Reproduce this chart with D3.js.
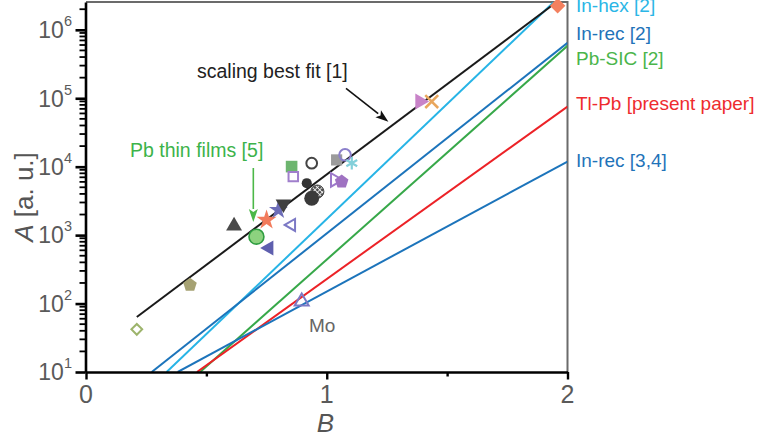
<!DOCTYPE html>
<html>
<head>
<meta charset="utf-8">
<script src="https://cdn.jsdelivr.net/npm/d3@7"></script>
<style>
  body { margin: 0; background: #fff; }
  svg { display: block; font-family: "Liberation Sans", Arial, Helvetica, sans-serif; }
</style>
</head>
<body>
<div id="chart"></div>
<script>
"use strict";

// axis setup
const xDomain = [0, 2];
const yDomain = [10, 2.55e6];
const xTicks = [0, 0.5, 1, 1.5, 2];
const xTickLabels = ["0", "", "1", "", "2"];
const yDecades = [1e1, 1e2, 1e3, 1e4, 1e5, 1e6];
const yExponents = ["1", "2", "3", "4", "5", "6"];

// fitted lines (two end points each, in B / A units)
const lineNames = ["In-hex [2]", "In-rec [2]", "Pb-SIC [2]", "Tl-Pb [present paper]", "In-rec [3,4]", "scaling best fit [1]"];
const lineStartB = [0.335, 0.273, 0.474, 0.461, 0.381, 0.211];
const lineStartA = [10, 10, 10, 10, 10, 63.5];
const lineEndB = [1.94, 2, 2, 2, 2, 1.948];
const lineEndA = [2.48e6, 6.46e5, 5.83e5, 7.57e4, 1.19e4, 2.45e6];

// literature data points
const pointKinds = [
  "diamondOpen", "pentagonOlive", "triangleDark", "circleGreen", "starOrange", "starPurple",
  "triangleDownDark", "triangleLeftOpen", "triangleLeftPurple", "squareGreen", "circleOpenDark",
  "squareGray", "circleOpenPurple", "asteriskCyan", "squareOpenPurple", "triangleRightOpen",
  "pentagonPurple", "circleDarkSmall", "circleHatched", "circleDarkBig", "triangleRightPink",
  "timesOrange", "diamondOrange", "triangleOpenMo",
];
const pointB = [0.211, 0.432, 0.615, 0.708, 0.750, 0.799, 0.820, 0.854, 0.760, 0.854, 0.9375, 1.041,
  1.076, 1.104, 0.861, 1.034, 1.062, 0.917, 0.961, 0.9375, 1.387, 1.436, 1.959, 0.896];
const pointA = [42, 187, 1365, 949, 1667, 2333, 2857, 1410, 649, 10035, 11250, 12560,
  14900, 11250, 7160, 6410, 6050, 5740, 4330, 3460, 89500, 89500, 2.24e6, 107];

// annotation arrows (tail -> tip)
const fitArrow = { b0: 1.080, a0: 1.4e5, b1: 1.256, a1: 4.54e4 };
const filmArrow = { b0: 0.695, a0: 9570, b1: 0.695, a1: 1556 };

const width = 765;
const height = 437;
const plot = { left: 86, right: 567.5, top: 2, bottom: 372 };

const lineColors = {
  "In-hex [2]": "#27b4e6",
  "In-rec [2]": "#1c74bb",
  "Pb-SIC [2]": "#37a849",
  "Tl-Pb [present paper]": "#ec2227",
  "In-rec [3,4]": "#1c74bb",
  "scaling best fit [1]": "#1a1a1a",
};
const labelColors = {
  "In-hex [2]": "#2bb6e6",
  "In-rec [2]": "#1f73b9",
  "Pb-SIC [2]": "#4bb54a",
  "Tl-Pb [present paper]": "#ee2b2e",
  "In-rec [3,4]": "#1f73b9",
};
const labelBaselines = {
  "In-hex [2]": 11.5,
  "In-rec [2]": 39.5,
  "Pb-SIC [2]": 65,
  "Tl-Pb [present paper]": 110,
  "In-rec [3,4]": 166.5,
};

const symbolPentagon = {
  draw(ctx, size) {
    const r = Math.sqrt(size / 2.378);
    for (let i = 0; i < 5; i++) {
      const ang = -Math.PI / 2 + (i * 2 * Math.PI) / 5;
      const px = r * Math.cos(ang);
      const py = r * Math.sin(ang);
      if (i === 0) ctx.moveTo(px, py);
      else ctx.lineTo(px, py);
    }
    ctx.closePath();
  },
};

const markerStyles = {
  diamondOpen: { type: d3.symbolSquare, size: 58, rotate: 45, fill: "#fff", stroke: "#9db46c", sw: 2 },
  pentagonOlive: { type: symbolPentagon, size: 120, fill: "#a6a273" },
  triangleDark: { type: d3.symbolTriangle, size: 110, fill: "#4a4a4a" },
  circleGreen: { type: d3.symbolCircle, size: 175, fill: "#8dd27f", stroke: "#2f9d41", sw: 1.6 },
  starOrange: { type: d3.symbolStar, size: 125, fill: "#f27b5c" },
  starPurple: { type: d3.symbolStar, size: 110, fill: "#6d6db8" },
  triangleDownDark: { type: d3.symbolTriangle, size: 105, rotate: 180, fill: "#404040" },
  triangleLeftOpen: { type: d3.symbolTriangle, size: 62, rotate: -90, fill: "none", stroke: "#7c79c5", sw: 2 },
  triangleLeftPurple: { type: d3.symbolTriangle, size: 100, rotate: -90, fill: "#5e5fae" },
  squareGreen: { type: d3.symbolSquare, size: 135, fill: "#6db56f" },
  circleOpenDark: { type: d3.symbolCircle, size: 90, fill: "none", stroke: "#444", sw: 2 },
  squareGray: { type: d3.symbolSquare, size: 125, fill: "#9b9b9b" },
  circleOpenPurple: { type: d3.symbolCircle, size: 105, fill: "none", stroke: "#8b7fcb", sw: 2 },
  asteriskCyan: { type: d3.symbolAsterisk, size: 110, fill: "none", stroke: "#83d0da", sw: 2.2 },
  squareOpenPurple: { type: d3.symbolSquare, size: 90, fill: "none", stroke: "#a07fcc", sw: 2 },
  triangleRightOpen: { type: d3.symbolTriangle, size: 80, rotate: 90, fill: "#fff", stroke: "#9c78ca", sw: 2 },
  pentagonPurple: { type: symbolPentagon, size: 120, fill: "#9f72c2" },
  circleDarkSmall: { type: d3.symbolCircle, size: 80, fill: "#333" },
  circleHatched: { type: d3.symbolCircle, size: 135, fill: "url(#hatch)", stroke: "#444", sw: 1 },
  circleDarkBig: { type: d3.symbolCircle, size: 175, fill: "#3a3a3a" },
  triangleRightPink: { type: d3.symbolTriangle, size: 110, rotate: 90, fill: "#c883c8" },
  timesOrange: { type: d3.symbolTimes, size: 110, fill: "none", stroke: "#e9a65c", sw: 2.5 },
  diamondOrange: { type: d3.symbolSquare, size: 120, rotate: 45, fill: "#f3805f" },
  triangleOpenMo: { type: d3.symbolTriangle, size: 85, fill: "none", stroke: "#7c79c5", sw: 2 },
};

const svg = d3.select("#chart").append("svg")
  .attr("width", width)
  .attr("height", height)
  .attr("viewBox", `0 0 ${width} ${height}`);

const defs = svg.append("defs");
const hatch = defs.append("pattern")
  .attr("id", "hatch")
  .attr("width", 3.4)
  .attr("height", 3.4)
  .attr("patternUnits", "userSpaceOnUse")
  .attr("patternTransform", "rotate(45)");
hatch.append("rect").attr("width", 3.4).attr("height", 3.4).attr("fill", "#4a4a4a");
hatch.append("path").attr("d", "M0.5,0V3.4M0,0.5H3.4").attr("stroke", "#fff").attr("stroke-width", 0.8);

defs.append("clipPath").attr("id", "plot-clip")
  .append("rect")
  .attr("x", plot.left)
  .attr("y", plot.top)
  .attr("width", plot.right - plot.left)
  .attr("height", plot.bottom - plot.top);

const x = d3.scaleLinear().domain(xDomain).range([plot.left, plot.right]);
const y = d3.scaleLog().domain(yDomain).range([plot.bottom, plot.top]);

// frame (top + right, gray)
svg.append("path")
  .attr("d", `M${plot.left},${plot.top}H${plot.right}V${plot.bottom}`)
  .attr("fill", "none")
  .attr("stroke", "#6b6b6b")
  .attr("stroke-width", 2);

// colored lines
const lineLayer = svg.append("g").attr("clip-path", "url(#plot-clip)");
const lineRows = lineNames.map((name, i) => ({
  name,
  pts: [[lineStartB[i], lineStartA[i]], [lineEndB[i], lineEndA[i]]],
}));
const lineGen = d3.line().x((p) => x(p[0])).y((p) => y(p[1]));

lineLayer.selectAll("path.fit")
  .data(lineRows.filter((row) => row.name !== "scaling best fit [1]"))
  .join("path")
  .attr("class", "fit")
  .attr("d", (row) => lineGen(row.pts))
  .attr("fill", "none")
  .attr("stroke", (row) => lineColors[row.name])
  .attr("stroke-width", 2);

// points
const symbolGen = d3.symbol();
const pointRows = pointKinds.map((kind, i) => ({ kind, b: pointB[i], a: pointA[i] }));
svg.append("g")
  .selectAll("path.pt")
  .data(pointRows)
  .join("path")
  .attr("class", "pt")
  .attr("d", (row) => symbolGen.type(markerStyles[row.kind].type).size(markerStyles[row.kind].size)())
  .attr("transform", (row) => `translate(${x(row.b)},${y(row.a)}) rotate(${markerStyles[row.kind].rotate || 0})`)
  .attr("fill", (row) => markerStyles[row.kind].fill)
  .attr("stroke", (row) => markerStyles[row.kind].stroke || "none")
  .attr("stroke-width", (row) => markerStyles[row.kind].sw || 0)
  .attr("stroke-linejoin", "miter");

// best fit line on top
lineLayer.append("path")
  .datum(lineRows.find((row) => row.name === "scaling best fit [1]"))
  .attr("d", (row) => lineGen(row.pts))
  .attr("fill", "none")
  .attr("stroke", lineColors["scaling best fit [1]"])
  .attr("stroke-width", 2);

// x axis
const xAxis = svg.append("g")
  .attr("transform", `translate(0,${plot.bottom})`)
  .call(d3.axisBottom(x).tickValues(xTicks).tickSize(7).tickSizeOuter(0).tickFormat(""));
xAxis.select(".domain").attr("stroke", "#000").attr("stroke-width", 2.6);
xAxis.selectAll(".tick line")
  .attr("stroke", "#000")
  .attr("stroke-width", 2.4)
  .attr("y2", (d) => (Number.isInteger(d) ? 7.5 : 4.5));

svg.append("g")
  .selectAll("text")
  .data(xTicks.filter((_, i) => xTickLabels[i] !== ""))
  .join("text")
  .attr("x", (d) => x(d))
  .attr("y", plot.bottom + 31)
  .attr("text-anchor", "middle")
  .attr("font-size", 25)
  .attr("fill", "#5a5a5a")
  .text((d) => xTickLabels[xTicks.indexOf(d)]);

// y axis: majors + minors
const yMinor = y.ticks().filter((v) => !yDecades.includes(v));
const yAxisG = svg.append("g").attr("transform", `translate(${plot.left - 0.5},0)`);
yAxisG.call(d3.axisLeft(y).tickValues(yDecades).tickSize(10).tickSizeOuter(0).tickFormat(""));
yAxisG.select(".domain").attr("stroke", "#000").attr("stroke-width", 2.6);
yAxisG.selectAll(".tick line").attr("stroke", "#000").attr("stroke-width", 2.6);
yAxisG.append("g")
  .selectAll("line")
  .data(yMinor)
  .join("line")
  .attr("x1", 0)
  .attr("x2", -6)
  .attr("y1", (v) => y(v))
  .attr("y2", (v) => y(v))
  .attr("stroke", "#000")
  .attr("stroke-width", 1.8);

const yLabels = svg.append("g")
  .selectAll("text")
  .data(yDecades)
  .join("text")
  .attr("x", 72)
  .attr("y", (v) => y(v) + 8.3)
  .attr("text-anchor", "end")
  .attr("fill", "#5a5a5a")
  .attr("font-size", 23);
yLabels.append("tspan").text("10");
yLabels.append("tspan")
  .attr("dy", -12)
  .attr("font-size", 14.5)
  .text((v, i) => yExponents[i]);

// axis titles
svg.append("text")
  .attr("x", 325.5)
  .attr("y", 432)
  .attr("text-anchor", "middle")
  .attr("font-size", 26)
  .attr("font-style", "italic")
  .attr("fill", "#555")
  .text("B");

const yTitle = svg.append("text")
  .attr("transform", "translate(33,197) rotate(-90)")
  .attr("text-anchor", "middle")
  .attr("font-size", 26)
  .attr("fill", "#555");
yTitle.append("tspan").attr("font-style", "italic").text("A");
yTitle.append("tspan").text(" [a. u.]");

// line labels on the right
svg.append("g")
  .selectAll("text")
  .data(lineNames.filter((name) => labelColors[name]))
  .join("text")
  .attr("x", 576)
  .attr("y", (name) => labelBaselines[name])
  .attr("font-size", 19)
  .attr("fill", (name) => labelColors[name])
  .text((name) => name);

// annotations
function drawArrow(arrow, color) {
  const x0 = x(arrow.b0), y0 = y(arrow.a0), x1 = x(arrow.b1), y1 = y(arrow.a1);
  const ang = Math.atan2(y1 - y0, x1 - x0);
  const headLen = 13, headHalf = 4.5;
  const bx = x1 - headLen * Math.cos(ang), by = y1 - headLen * Math.sin(ang);
  svg.append("line")
    .attr("x1", x0).attr("y1", y0).attr("x2", bx).attr("y2", by)
    .attr("stroke", color).attr("stroke-width", 1.6);
  svg.append("path")
    .attr("d", `M${x1},${y1}L${bx - headHalf * Math.sin(ang)},${by + headHalf * Math.cos(ang)}L${bx + 3 * Math.cos(ang)},${by + 3 * Math.sin(ang)}L${bx + headHalf * Math.sin(ang)},${by - headHalf * Math.cos(ang)}Z`)
    .attr("fill", color);
}

svg.append("text")
  .attr("x", 197)
  .attr("y", 78)
  .attr("font-size", 19.5)
  .attr("fill", "#222")
  .text("scaling best fit [1]");
drawArrow(fitArrow, "#111");

svg.append("text")
  .attr("x", 130)
  .attr("y", 156.5)
  .attr("font-size", 19.5)
  .attr("fill", "#3cb34a")
  .text("Pb thin films [5]");
drawArrow(filmArrow, "#4cb848");

svg.append("text")
  .attr("x", 309)
  .attr("y", 332)
  .attr("font-size", 19)
  .attr("fill", "#666")
  .text("Mo");
</script>
</body>
</html>
